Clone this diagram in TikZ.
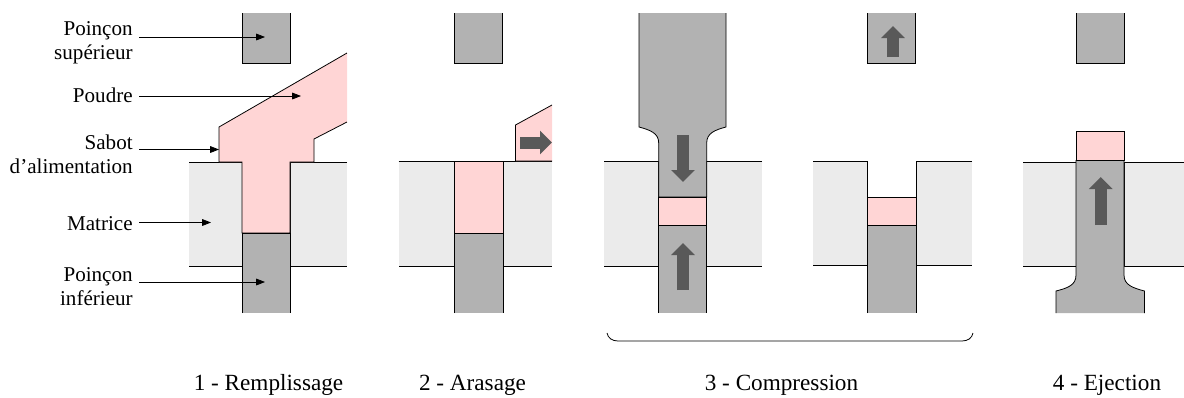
\documentclass[tikz,border=0pt]{standalone}
\usepackage{fontspec}
\setmainfont{Liberation Serif}
\usetikzlibrary{arrows.meta}
\definecolor{punchgray}{HTML}{B2B2B2}
\definecolor{diegray}{HTML}{EBEBEB}
\definecolor{powderpink}{HTML}{FFD5D5}
\definecolor{pushgray}{HTML}{595959}
\tikzset{
    edge/.style={black,line width=0.45pt},
    label/.style={anchor=east,align=right,inner xsep=3.4pt,inner ysep=0pt,font=\fontsize{12}{13.6}\selectfont},
    caption/.style={anchor=base,inner sep=0pt,font=\fontsize{13.2}{14}\selectfont},
    callout/.style={-{Triangle[length=5pt,width=3.8pt]},black,line width=0.45pt},
    push/.style={-{Triangle[length=0.24cm,width=0.46cm]},pushgray,line width=0.24cm}
}
\begin{document}
\begin{tikzpicture}[x=0.02cm,y=-0.02cm]
    \useasboundingbox (0,0) rectangle (1184,397);
    % upper punches
    \foreach \x in {242,454,867,1076} {
        \fill[punchgray] (\x,13) rectangle (\x+48,63);
        \draw[edge] (\x,13) -- (\x,63) -- (\x+48,63) -- (\x+48,13);
    }
    % dies
    \foreach \l/\m/\n/\r/\t/\b in {189/242/290/347/162/266,398.5/454/503/552/161/266,604/658.7/706.7/762/161/266,813/867/916/972/161/265,1023/1076/1124/1184/162/266} {
        \fill[diegray] (\l,\t) rectangle (\m,\b);
        \fill[diegray] (\n,\t) rectangle (\r,\b);
        \draw[edge] (\l,\t) -- (\m,\t) -- (\m,\b) -- (\l,\b);
        \draw[edge] (\r,\t) -- (\n,\t) -- (\n,\b) -- (\r,\b);
    }
    % 1 - filling
    \fill[powderpink] (219,127) -- (347,53) -- (347,122) -- (314,139) -- (314,162) -- (290,162) -- (290,233) -- (242,233) -- (242,162) -- (219,162) -- cycle;
    \draw[edge] (347,53) -- (219,127) -- (219,162) -- (242,162) -- (242,233) -- (290,233) -- (290,162) -- (314,162) -- (314,139) -- (347,122);
    \fill[punchgray] (242,233) rectangle (290,313);
    \draw[edge] (242,313) -- (242,233) -- (290,233) -- (290,313);
    % 2 - levelling
    \fill[powderpink] (454,161) rectangle (503,233);
    \draw[edge] (454,161) rectangle (503,233);
    \fill[punchgray] (454,233) rectangle (503,313);
    \draw[edge] (454,313) -- (454,233) -- (503,233) -- (503,313);
    \fill[powderpink] (515.5,161) -- (515.5,125) -- (552,105) -- (552,161) -- cycle;
    \draw[edge] (552,161) -- (515.5,161) -- (515.5,125) -- (552,105);
    % 3 - compression, punches closed
    \fill[punchgray] (639,13) -- (639,127) .. controls (650,130) and (658.7,133) .. (658.7,143) -- (658.7,197) -- (706.7,197) -- (706.7,143) .. controls (706.7,133) and (715,130) .. (726,127) -- (726,13) -- cycle;
    \draw[edge] (639,13) -- (639,127) .. controls (650,130) and (658.7,133) .. (658.7,143) -- (658.7,197) -- (706.7,197) -- (706.7,143) .. controls (706.7,133) and (715,130) .. (726,127) -- (726,13);
    \fill[powderpink] (658.7,197) rectangle (706.7,225);
    \draw[edge] (658.7,197) rectangle (706.7,225);
    \fill[punchgray] (658.7,225) rectangle (706.7,313);
    \draw[edge] (658.7,313) -- (658.7,225) -- (706.7,225) -- (706.7,313);
    % 3 - compression, upper punch lifted
    \fill[powderpink] (867,197) rectangle (916,225);
    \draw[edge] (867,197) rectangle (916,225);
    \fill[punchgray] (867,225) rectangle (916,313);
    \draw[edge] (867,313) -- (867,225) -- (916,225) -- (916,313);
    % 4 - ejection
    \fill[powderpink] (1076,131.5) rectangle (1124,160.5);
    \draw[edge] (1076,131.5) rectangle (1124,160.5);
    \fill[punchgray] (1056,313) -- (1056,291) .. controls (1068,288) and (1076,285) .. (1076,275) -- (1076,160.5) -- (1124,160.5) -- (1124,275) .. controls (1124,285) and (1133,288) .. (1144.5,291) -- (1144.5,313) -- cycle;
    \draw[edge] (1056,313) -- (1056,291) .. controls (1068,288) and (1076,285) .. (1076,275) -- (1076,160.5) -- (1124,160.5) -- (1124,275) .. controls (1124,285) and (1133,288) .. (1144.5,291) -- (1144.5,313);
    % motion arrows
    \coordinate (slidefrom) at (520,142.5);
    \coordinate (slideto) at (552,142.5);
    \coordinate (pressfrom) at (683,135);
    \coordinate (pressto) at (683,182);
    \coordinate (risefrom) at (683,290);
    \coordinate (riseto) at (683,243);
    \coordinate (liftfrom) at (893,57);
    \coordinate (liftto) at (893,26);
    \coordinate (ejectfrom) at (1100.7,225);
    \coordinate (ejectto) at (1100.7,177);
    \draw[push] (slidefrom) -- (slideto);
    \draw[push] (pressfrom) -- (pressto);
    \draw[push] (risefrom) -- (riseto);
    \draw[push] (liftfrom) -- (liftto);
    \draw[push] (ejectfrom) -- (ejectto);
    % labels on the left
    \node[label] (punchup) at (139,43) {Poinçon\\supérieur};
    \node[label] (powder) at (139,95) {Poudre};
    \node[label] (shoe) at (139,154.5) {Sabot\\d’alimentation};
    \node[label] (die) at (139,223.5) {Matrice};
    \node[label] (punchdown) at (139,287) {Poinçon\\inférieur};
    \coordinate (punchuptip) at (265,37);
    \coordinate (powdertip) at (301,96);
    \coordinate (shoetip) at (219,149.5);
    \coordinate (dietip) at (211,222.5);
    \coordinate (punchdowntip) at (265,282);
    \draw[callout] (punchup.east |- punchuptip) -- (punchuptip);
    \draw[callout] (powder.east |- powdertip) -- (powdertip);
    \draw[callout] (shoe.east |- shoetip) -- (shoetip);
    \draw[callout] (die.east |- dietip) -- (dietip);
    \draw[callout] (punchdown.east |- punchdowntip) -- (punchdowntip);
    % brace under the two compression views
    \coordinate (bracel) at (607,333);
    \coordinate (bracer) at (973,333);
    \draw[edge] (bracel) .. controls (608,338) and (612,341) .. (618,341) -- (962,341) .. controls (968,341) and (972,338) .. (bracer);
    % captions
    \node[caption] (stepa) at (268.5,390) {1 - Remplissage};
    \node[caption] (stepb) at (472.5,390) {2 - Arasage};
    \node[caption] (stepc) at (781.5,390) {3 - Compression};
    \node[caption] (stepd) at (1107,390) {4 - Ejection};
\end{tikzpicture}
\end{document}
